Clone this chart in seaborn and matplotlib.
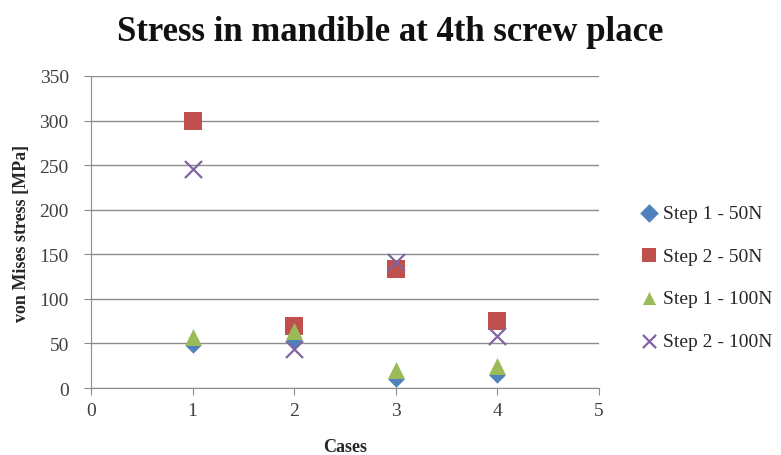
import pandas as pd
import seaborn as sns
import matplotlib.pyplot as plt

# values
cases = [1, 2, 3, 4]
step1_50n = [48, 53, 10, 15]
step2_50n = [300, 70, 134, 75]
step1_100n = [57, 64, 20, 25]
step2_100n = [246, 44, 141, 58]

series_names = ['Step 1 - 50N', 'Step 2 - 50N', 'Step 1 - 100N', 'Step 2 - 100N']
series_values = [step1_50n, step2_50n, step1_100n, step2_100n]

rows = []
for name, vals in zip(series_names, series_values):
    for c, v in zip(cases, vals):
        rows.append({'Cases': c, 'stress': v, 'series': name})
df = pd.DataFrame(rows)

sns.set_style('white')
plt.rcParams['font.family'] = ['Liberation Serif', 'DejaVu Serif']

fig = plt.figure(figsize=(7.81, 4.56), dpi=100)
ax = fig.add_axes([91 / 781, 1 - 389 / 456, 508 / 781, 312 / 456])

palette = {'Step 1 - 50N': '#4F81BD', 'Step 2 - 50N': '#C0504D',
           'Step 1 - 100N': '#9BBB59', 'Step 2 - 100N': '#8064A2'}
markers = {'Step 1 - 50N': 'D', 'Step 2 - 50N': 's',
           'Step 1 - 100N': '^', 'Step 2 - 100N': 'x'}
sizes = {'Step 1 - 50N': 70, 'Step 2 - 50N': 150,
         'Step 1 - 100N': 150, 'Step 2 - 100N': 150}

for name in series_names:
    sub = df[df['series'] == name]
    kw = dict(linewidth=1.6) if markers[name] == 'x' else dict(linewidth=0)
    sns.scatterplot(data=sub, x='Cases', y='stress', ax=ax, color=palette[name],
                    marker=markers[name], s=sizes[name], label=name, **kw)

ax.set_xlim(0, 5)
ax.set_ylim(0, 350)
ax.set_xticks(range(0, 6))
ax.set_yticks(range(0, 351, 50))
ax.yaxis.grid(True, color='#8c8c8c', linewidth=1)
ax.set_axisbelow(True)
for side in ['top', 'right']:
    ax.spines[side].set_visible(False)
for side in ['left', 'bottom']:
    ax.spines[side].set_color('#8c8c8c')
ax.tick_params(axis='both', labelsize=14, colors='#8c8c8c', labelcolor='#404040',
               direction='out', length=5, bottom=True, left=True)
ax.tick_params(axis='y', pad=11)
ax.tick_params(axis='x', pad=5)

ax.set_xlabel('Cases', fontsize=13, fontweight='bold', labelpad=14)
ax.set_ylabel('von Mises stress [MPa]', fontsize=13, fontweight='bold', labelpad=7)
fig.suptitle('Stress in mandible at 4th screw place', fontsize=25,
             fontweight='bold', y=0.965, color='#111111')

leg = ax.legend(loc='center left', bbox_to_anchor=(1.06, 0.355), frameon=False,
                fontsize=14, handletextpad=0.1, labelspacing=1.3, handlelength=1.2,
                borderaxespad=0)
for h in leg.legend_handles:
    h.set_sizes([90])

fig.savefig('out.png', dpi=100)
